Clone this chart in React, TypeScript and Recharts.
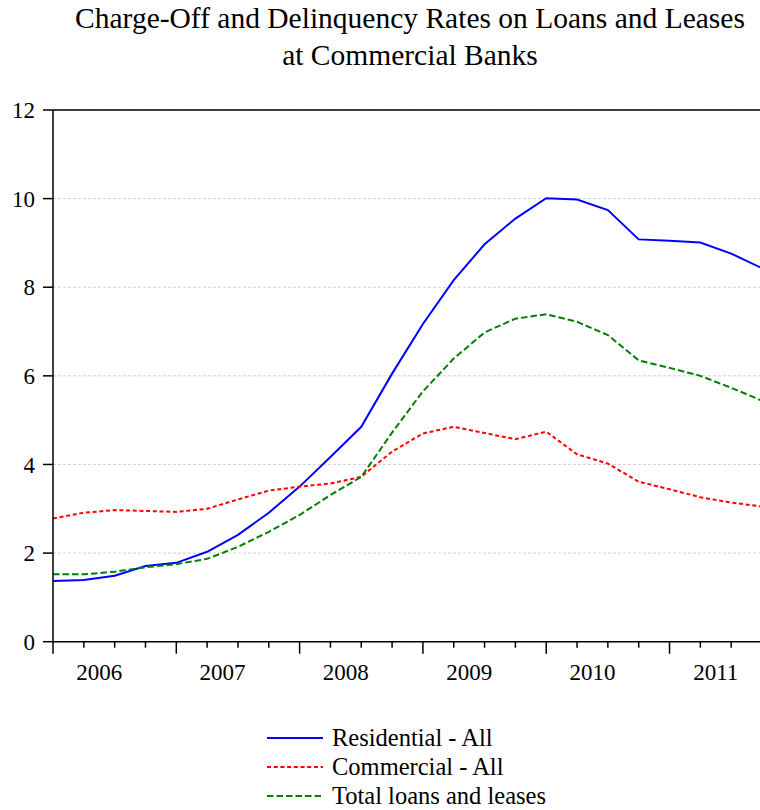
import React from 'react';
import { LineChart, Line, XAxis, YAxis, CartesianGrid, ReferenceLine, Legend } from 'recharts';

const quarters = [
  '2006Q1', '2006Q2', '2006Q3', '2006Q4',
  '2007Q1', '2007Q2', '2007Q3', '2007Q4',
  '2008Q1', '2008Q2', '2008Q3', '2008Q4',
  '2009Q1', '2009Q2', '2009Q3', '2009Q4',
  '2010Q1', '2010Q2', '2010Q3', '2010Q4',
  '2011Q1', '2011Q2', '2011Q3', '2011Q4',
];
const residential = [1.37, 1.39, 1.49, 1.71, 1.78, 2.03, 2.41, 2.91, 3.5, 4.17, 4.85, 6.05, 7.17, 8.16, 8.97, 9.55, 10.01, 9.98, 9.74, 9.08, 9.05, 9.01, 8.76, 8.43];
const commercial = [2.78, 2.91, 2.97, 2.95, 2.93, 3.0, 3.21, 3.41, 3.5, 3.57, 3.72, 4.29, 4.7, 4.85, 4.71, 4.57, 4.74, 4.23, 4.02, 3.61, 3.44, 3.26, 3.14, 3.05];
const total = [1.52, 1.52, 1.58, 1.68, 1.75, 1.87, 2.14, 2.48, 2.86, 3.31, 3.72, 4.72, 5.65, 6.39, 6.98, 7.29, 7.39, 7.22, 6.92, 6.35, 6.18, 6.0, 5.73, 5.44];
const years = ['2006', '2007', '2008', '2009', '2010', '2011'];
const yTicks = [0, 2, 4, 6, 8, 10, 12];
const titleLines = ['Charge-Off and Delinquency Rates on Loans and Leases', 'at Commercial Banks'];
const seriesOrder = ['residential', 'commercial', 'total'];

const data = quarters.map((q, i) => ({
  i,
  q,
  residential: residential[i],
  commercial: commercial[i],
  total: total[i],
}));

// tick positions in data units: every quarter, plus mid-year label positions
const xTicks: number[] = [];
quarters.forEach((_, i) => xTicks.push(i));
years.forEach((_, k) => xTicks.push(k * 4 + 1.5));
xTicks.sort((a, b) => a - b);

const FONT = '"Liberation Serif", "Times New Roman", serif';

const XTick = (props: any) => {
  const { x, y, payload } = props;
  const v = payload.value as number;
  if (Number.isInteger(v)) {
    const len = v % 4 === 0 ? 12 : 6;
    return <line x1={x} x2={x} y1={y} y2={y + len} stroke="#000" strokeWidth={1.5} />;
  }
  const label = years[Math.floor(v / 4)];
  return (
    <text x={x} y={y + 38} textAnchor="middle" fontFamily={FONT} fontSize={23} fill="#000">
      {label}
    </text>
  );
};

const dashes: Record<string, string | undefined> = {
  residential: undefined,
  commercial: '4 2.7',
  total: '6.5 3',
};

const LegendContent = (props: any) => {
  const items = [...(props.payload || [])].sort(
    (a: any, b: any) => seriesOrder.indexOf(a.dataKey) - seriesOrder.indexOf(b.dataKey)
  );
  return (
    <div style={{ fontFamily: FONT, fontSize: 24.5, color: '#000' }}>
      {items.map((entry: any) => (
        <div key={entry.value} style={{ display: 'flex', alignItems: 'center', height: 29, lineHeight: '29px', whiteSpace: 'nowrap' }}>
          <svg width={56} height={6} style={{ display: 'block', marginRight: 9 }}>
            <line x1={0} x2={56} y1={3} y2={3} stroke={entry.color} strokeWidth={2} strokeDasharray={dashes[entry.dataKey]} />
          </svg>
          <span>{entry.value}</span>
        </div>
      ))}
    </div>
  );
};

export default function App() {
  return (
    <div style={{ position: 'absolute', left: 0, top: 0, width: 760, height: 810, overflow: 'hidden', background: '#fff' }}>
      <div
        style={{
          position: 'absolute',
          left: 0,
          top: 0,
          width: 820,
          textAlign: 'center',
          fontFamily: FONT,
          fontSize: 29.5,
          lineHeight: '37px',
          color: '#000',
          whiteSpace: 'nowrap',
        }}
      >
        {titleLines.map((t) => (
          <div key={t}>{t}</div>
        ))}
      </div>
      <LineChart
        width={764}
        height={810}
        data={data}
        margin={{ top: 110, right: 2, bottom: 108.3, left: 0 }}
        style={{ position: 'absolute', left: 0, top: 0 }}
      >
        <CartesianGrid vertical={false} stroke="#d0d0d0" strokeDasharray="3 2" />
        <XAxis
          type="number"
          dataKey="i"
          domain={[0, 23]}
          ticks={xTicks}
          interval={0}
          tickLine={false}
          tickSize={0}
          tickMargin={0}
          tick={<XTick />}
          axisLine={{ stroke: '#000', strokeWidth: 1.5 }}
          height={60}
        />
        <YAxis
          domain={[0, 12]}
          ticks={yTicks}
          interval={0}
          width={53}
          tickSize={10}
          tickMargin={8}
          tickLine={{ stroke: '#000', strokeWidth: 1.5 }}
          axisLine={{ stroke: '#000', strokeWidth: 1.5 }}
          tick={{ fontFamily: FONT, fontSize: 23, fill: '#000' }}
        />
        <ReferenceLine y={12} stroke="#000" strokeWidth={1.5} />
        <Line
          type="linear"
          dataKey="residential"
          name="Residential - All"
          stroke="#0000ff"
          strokeWidth={2}
          dot={false}
          isAnimationActive={false}
        />
        <Line
          type="linear"
          dataKey="commercial"
          name="Commercial - All"
          stroke="#ff0000"
          strokeWidth={2}
          strokeDasharray={dashes.commercial}
          dot={false}
          isAnimationActive={false}
        />
        <Line
          type="linear"
          dataKey="total"
          name="Total loans and leases"
          stroke="#008000"
          strokeWidth={2}
          strokeDasharray={dashes.total}
          dot={false}
          isAnimationActive={false}
        />
        <Legend
          layout="vertical"
          align="center"
          verticalAlign="middle"
          content={<LegendContent />}
          wrapperStyle={{ left: 267, top: 723, width: 420 }}
        />
      </LineChart>
    </div>
  );
}
